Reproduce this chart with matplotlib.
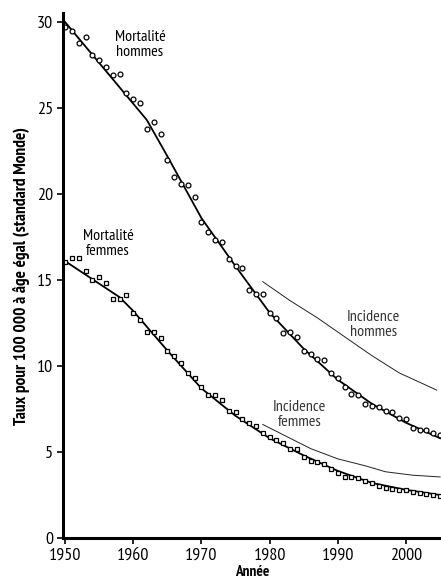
import matplotlib
matplotlib.use("Agg")
import matplotlib.pyplot as plt

years = list(range(1950, 2006))

mort_hommes = [29.7, 29.5, 28.8, 29.1, 28.1, 27.8, 27.4, 26.9, 27.0, 25.9,
               25.5, 25.3, 23.8, 24.2, 23.5, 22.0, 21.0, 20.6, 20.5, 19.8,
               18.4, 17.8, 17.3, 17.2, 16.2, 15.8, 15.7, 14.4, 14.2, 14.2,
               13.1, 12.8, 11.9, 12.0, 11.7, 10.9, 10.7, 10.4, 10.35, 9.6,
               9.3, 8.8, 8.4, 8.3, 7.8, 7.7, 7.6, 7.4, 7.3, 7.0,
               6.9, 6.4, 6.3, 6.3, 6.1, 6.0]

mort_femmes = [16.05, 16.3, 16.3, 15.5, 15.0, 15.2, 14.8, 13.9, 13.9, 14.1,
               13.1, 12.7, 12.0, 12.0, 11.6, 10.9, 10.6, 10.2, 9.6, 9.3,
               8.8, 8.3, 8.3, 8.0, 7.4, 7.3, 6.9, 6.7, 6.5, 6.1,
               5.9, 5.7, 5.5, 5.2, 5.2, 4.7, 4.5, 4.4, 4.3, 4.0,
               3.8, 3.55, 3.55, 3.5, 3.3, 3.2, 3.0, 2.9, 2.85, 2.8,
               2.8, 2.7, 2.6, 2.55, 2.5, 2.45]

trend_h_years = [1950, 1962, 1965, 1970, 1975, 1980, 1985, 1990, 1995, 2000, 2005]
trend_h = [30.0, 24.3, 22.2, 18.6, 15.8, 13.1, 11.0, 9.2, 7.8, 6.7, 5.8]

trend_f_years = [1950, 1958, 1960, 1965, 1970, 1975, 1980, 1985, 1990, 1995, 2000, 2005]
trend_f = [16.1, 14.0, 13.2, 10.9, 8.7, 7.1, 5.8, 4.8, 3.9, 3.2, 2.8, 2.5]

inc_h_years = [1979, 1983, 1987, 1991, 1995, 1999, 2004.5]
inc_h = [14.9, 13.8, 12.8, 11.7, 10.6, 9.6, 8.6]

inc_f_years = [1979, 1983, 1986, 1990, 1994, 1997, 2001, 2005]
inc_f = [6.6, 5.8, 5.2, 4.6, 4.2, 3.85, 3.65, 3.55]

yticks = [0, 5, 10, 15, 20, 25, 30]
xticks = [1950, 1960, 1970, 1980, 1990, 2000]

FONT = ["PT Sans Narrow", "DejaVu Sans"]
plt.rcParams['font.family'] = FONT

fig = plt.figure(figsize=(4.41, 5.82), dpi=100)
ax = fig.add_axes([63/441, 1 - 538/582, 1 - 63/441, 524.6/582])

ax.plot(trend_h_years, trend_h, color="black", lw=1.3)
ax.plot(trend_f_years, trend_f, color="black", lw=1.3)
ax.plot(years, mort_hommes, linestyle="none", marker="o", ms=3.5,
        mfc="white", mec="black", mew=0.9)
ax.plot(years, mort_femmes, linestyle="none", marker="s", ms=3.4,
        mfc="white", mec="black", mew=0.9)
ax.plot(inc_h_years, inc_h, color="#222222", lw=0.7)
ax.plot(inc_f_years, inc_f, color="#222222", lw=0.7)

ax.set_xlim(1949.7, 2005.13)
ax.set_ylim(0, 30.5)
ax.set_xticks(xticks)
ax.set_yticks(yticks)
ax.tick_params(axis="both", direction="out", length=4, width=1.2,
               labelsize=13, pad=3)
for s in ["top", "right"]:
    ax.spines[s].set_visible(False)
ax.spines["left"].set_linewidth(2.2)
ax.spines["bottom"].set_linewidth(2.2)

ax.set_ylabel("Taux pour 100 000 à âge égal (standard Monde)", fontsize=12.5,
              fontweight="bold", labelpad=5)
ax.set_xlabel("Année", fontsize=11, fontweight="bold", labelpad=1)

ax.text(1961.0, 28.7, "Mortalité\nhommes", fontsize=11.5, ha="center", va="center",
        linespacing=1.1)
ax.text(1956.3, 17.1, "Mortalité\nfemmes", fontsize=11.5, ha="center", va="center",
        linespacing=1.1)
ax.text(1995.2, 12.4, "Incidence\nhommes", fontsize=11.5, ha="center", va="center",
        linespacing=1.1, color="#333333")
ax.text(1984.4, 7.2, "Incidence\nfemmes", fontsize=11.5, ha="center", va="center",
        linespacing=1.1, color="#333333")

fig.savefig("out.png", dpi=100)
